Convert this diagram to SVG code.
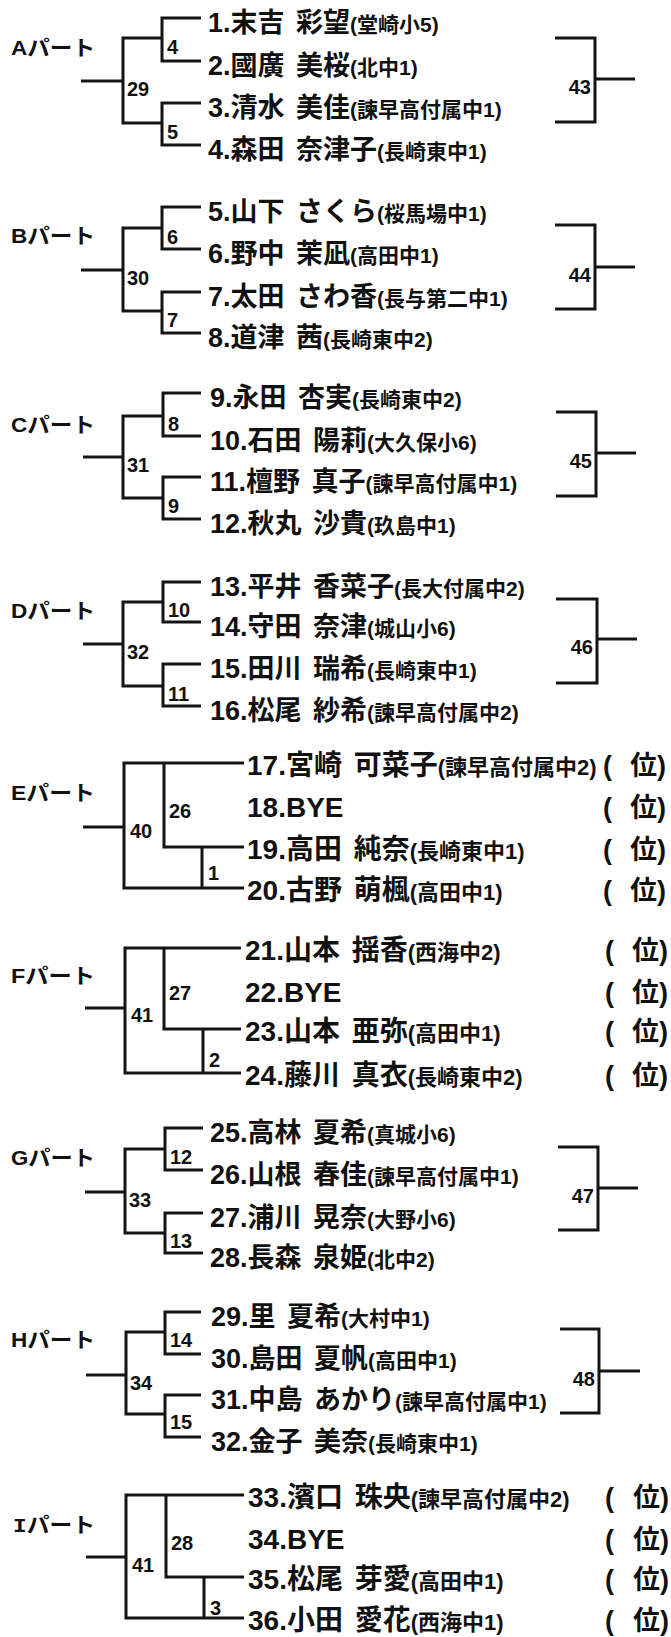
<svg xmlns="http://www.w3.org/2000/svg" width="671" height="1637" viewBox="0 0 671 1637">
<style>
.bg{fill:#ffffff}
.ln{stroke:#141414;stroke-width:3;fill:none;stroke-linejoin:miter}
.nm{font-family:"Liberation Sans Narrow","Liberation Sans","Noto Sans CJK JP",sans-serif;font-size:27px;font-weight:bold;fill:#111}
.nm.w{font-size:28px}
.sc{font-size:21px}
.w .sc{font-size:22px}
.pt{font-family:"Liberation Sans Narrow","Liberation Sans","Noto Sans CJK JP",sans-serif;font-size:21px;font-weight:bold;fill:#111}
.mn{font-family:"Liberation Sans Narrow","Liberation Sans",sans-serif;font-size:20px;font-weight:bold;fill:#111}
.mr{text-anchor:end}
.rk{font-family:"Liberation Sans Narrow","Liberation Sans","Noto Sans CJK JP",sans-serif;font-size:27px;font-weight:bold;fill:#111}
</style>
<rect class="bg" width="671" height="1637"/>

<g id="connectors">
<path class="ln" d="M201 18H162V61H201M201 103H162V145H201M162 38H123V123H162M81 81H123"/>
<path class="ln" d="M555 38H595V122H555M595 79H635"/>
<path class="ln" d="M201 207H162V249H201M201 292H162V333H201M162 228H123V311H162M81 270H123"/>
<path class="ln" d="M555 225H595V309H555M595 267H635"/>
<path class="ln" d="M201 393H163V436H201M201 477H163V519H201M163 416H123V498H163M83 457H123"/>
<path class="ln" d="M556 412H596V496H556M596 453H636"/>
<path class="ln" d="M201 582H163V622H201M201 664H163V706H201M163 602H123V686H163M83 644H123"/>
<path class="ln" d="M556 599H597V683H556M597 639H637"/>
<path class="ln" d="M244 763H124V888H244M164 763V847H244M202 847V888M83 827H124"/>
<path class="ln" d="M241 948H125V1073H241M164 948V1029H241M203 1029V1073M85 1008H125"/>
<path class="ln" d="M203 1128H165V1170H203M203 1213H165V1253H203M165 1149H125V1233H165M85 1192H125"/>
<path class="ln" d="M558 1147H598V1230H558M598 1188H638"/>
<path class="ln" d="M201 1312H165V1354H201M201 1395H165V1437H201M165 1332H126V1414H165M86 1375H126"/>
<path class="ln" d="M560 1329H599V1413H560M599 1371H640"/>
<path class="ln" d="M244 1495H126V1618H244M166 1495V1577H244M204 1577V1618M86 1557H126"/>
</g>

<g id="matches">
<text class="mn" x="127" y="96">29</text><text class="mn" x="167" y="54">4</text><text class="mn" x="167" y="139">5</text><text class="mn mr" x="591" y="94">43</text>
<text class="mn" x="127" y="285">30</text><text class="mn" x="167" y="244">6</text><text class="mn" x="167" y="327">7</text><text class="mn mr" x="591" y="282">44</text>
<text class="mn" x="127" y="472">31</text><text class="mn" x="168" y="431">8</text><text class="mn" x="168" y="513">9</text><text class="mn mr" x="592" y="468">45</text>
<text class="mn" x="127" y="659">32</text><text class="mn" x="168" y="617">10</text><text class="mn" x="168" y="701">11</text><text class="mn mr" x="593" y="654">46</text>
<text class="mn" x="130" y="838">40</text><text class="mn" x="169" y="818">26</text><text class="mn" x="208" y="880">1</text>
<text class="mn" x="131" y="1022">41</text><text class="mn" x="169" y="1000">27</text><text class="mn" x="209" y="1067">2</text>
<text class="mn" x="129" y="1207">33</text><text class="mn" x="170" y="1164">12</text><text class="mn" x="170" y="1248">13</text><text class="mn mr" x="594" y="1203">47</text>
<text class="mn" x="130" y="1390">34</text><text class="mn" x="170" y="1347">14</text><text class="mn" x="170" y="1429">15</text><text class="mn mr" x="595" y="1386">48</text>
<text class="mn" x="132" y="1572">41</text><text class="mn" x="171" y="1550">28</text><text class="mn" x="210" y="1615">3</text>
</g>

<g id="partA"><text class="pt" x="11" y="55" textLength="84" lengthAdjust="spacingAndGlyphs">Aパート</text></g>
<g id="partB"><text class="pt" x="11" y="243" textLength="84" lengthAdjust="spacingAndGlyphs">Bパート</text></g>
<g id="partC"><text class="pt" x="11" y="432" textLength="84" lengthAdjust="spacingAndGlyphs">Cパート</text></g>
<g id="partD"><text class="pt" x="11" y="618" textLength="84" lengthAdjust="spacingAndGlyphs">Dパート</text></g>
<g id="partE"><text class="pt" x="11" y="800" textLength="84" lengthAdjust="spacingAndGlyphs">Eパート</text></g>
<g id="partF"><text class="pt" x="11" y="983" textLength="84" lengthAdjust="spacingAndGlyphs">Fパート</text></g>
<g id="partG"><text class="pt" x="11" y="1165" textLength="84" lengthAdjust="spacingAndGlyphs">Gパート</text></g>
<g id="partH"><text class="pt" x="11" y="1347" textLength="84" lengthAdjust="spacingAndGlyphs">Hパート</text></g>
<g id="partI"><text class="pt" x="13" y="1532" textLength="82" lengthAdjust="spacingAndGlyphs"><tspan font-family="Liberation Mono">I</tspan>パート</text></g>

<g id="p1"><text class="nm" x="208" y="32">1.末吉 <tspan dx="4">彩望</tspan><tspan class="sc">(堂崎小5)</tspan></text></g>
<g id="p2"><text class="nm" x="208" y="75">2.國廣 <tspan dx="4">美桜</tspan><tspan class="sc">(北中1)</tspan></text></g>
<g id="p3"><text class="nm" x="208" y="117">3.清水 <tspan dx="4">美佳</tspan><tspan class="sc">(諫早高付属中1)</tspan></text></g>
<g id="p4"><text class="nm" x="208" y="159">4.森田 <tspan dx="4">奈津子</tspan><tspan class="sc">(長崎東中1)</tspan></text></g>

<g id="p5"><text class="nm" x="208" y="221">5.山下 <tspan dx="4">さくら</tspan><tspan class="sc">(桜馬場中1)</tspan></text></g>
<g id="p6"><text class="nm" x="208" y="263">6.野中 <tspan dx="4">茉凪</tspan><tspan class="sc">(高田中1)</tspan></text></g>
<g id="p7"><text class="nm" x="208" y="306">7.太田 <tspan dx="4">さわ香</tspan><tspan class="sc">(長与第二中1)</tspan></text></g>
<g id="p8"><text class="nm" x="208" y="347">8.道津 <tspan dx="4">茜</tspan><tspan class="sc">(長崎東中2)</tspan></text></g>

<g id="p9"><text class="nm" x="210" y="407">9.永田 <tspan dx="4">杏実</tspan><tspan class="sc">(長崎東中2)</tspan></text></g>
<g id="p10"><text class="nm" x="210" y="450">10.石田 <tspan dx="4">陽莉</tspan><tspan class="sc">(大久保小6)</tspan></text></g>
<g id="p11"><text class="nm" x="210" y="491">11.檀野 <tspan dx="4">真子</tspan><tspan class="sc">(諫早高付属中1)</tspan></text></g>
<g id="p12"><text class="nm" x="210" y="533">12.秋丸 <tspan dx="4">沙貴</tspan><tspan class="sc">(玖島中1)</tspan></text></g>

<g id="p13"><text class="nm" x="210" y="596">13.平井 <tspan dx="4">香菜子</tspan><tspan class="sc">(長大付属中2)</tspan></text></g>
<g id="p14"><text class="nm" x="210" y="636">14.守田 <tspan dx="4">奈津</tspan><tspan class="sc">(城山小6)</tspan></text></g>
<g id="p15"><text class="nm" x="210" y="678">15.田川 <tspan dx="4">瑞希</tspan><tspan class="sc">(長崎東中1)</tspan></text></g>
<g id="p16"><text class="nm" x="210" y="720">16.松尾 <tspan dx="4">紗希</tspan><tspan class="sc">(諫早高付属中2)</tspan></text></g>

<g id="p17"><text class="nm w" x="247" y="775">17.宮崎 <tspan dx="4">可菜子</tspan><tspan class="sc">(諫早高付属中2)</tspan></text><text class="rk" x="603" y="775">( <tspan x="630">位)</tspan></text></g>
<g id="p18"><text class="nm w" x="247" y="817">18.BYE</text><text class="rk" x="603" y="817">( <tspan x="630">位)</tspan></text></g>
<g id="p19"><text class="nm w" x="247" y="859">19.高田 <tspan dx="4">純奈</tspan><tspan class="sc">(長崎東中1)</tspan></text><text class="rk" x="603" y="859">( <tspan x="630">位)</tspan></text></g>
<g id="p20"><text class="nm w" x="247" y="900">20.古野 <tspan dx="4">萌楓</tspan><tspan class="sc">(高田中1)</tspan></text><text class="rk" x="603" y="900">( <tspan x="630">位)</tspan></text></g>

<g id="p21"><text class="nm w" x="245" y="960">21.山本 <tspan dx="4">揺香</tspan><tspan class="sc">(西海中2)</tspan></text><text class="rk" x="605" y="960">( <tspan x="632">位)</tspan></text></g>
<g id="p22"><text class="nm w" x="245" y="1002">22.BYE</text><text class="rk" x="605" y="1002">( <tspan x="632">位)</tspan></text></g>
<g id="p23"><text class="nm w" x="245" y="1041">23.山本 <tspan dx="4">亜弥</tspan><tspan class="sc">(高田中1)</tspan></text><text class="rk" x="605" y="1041">( <tspan x="632">位)</tspan></text></g>
<g id="p24"><text class="nm w" x="245" y="1085">24.藤川 <tspan dx="4">真衣</tspan><tspan class="sc">(長崎東中2)</tspan></text><text class="rk" x="605" y="1085">( <tspan x="632">位)</tspan></text></g>

<g id="p25"><text class="nm" x="210" y="1142">25.高林 <tspan dx="4">夏希</tspan><tspan class="sc">(真城小6)</tspan></text></g>
<g id="p26"><text class="nm" x="210" y="1184">26.山根 <tspan dx="4">春佳</tspan><tspan class="sc">(諫早高付属中1)</tspan></text></g>
<g id="p27"><text class="nm" x="210" y="1227">27.浦川 <tspan dx="4">晃奈</tspan><tspan class="sc">(大野小6)</tspan></text></g>
<g id="p28"><text class="nm" x="210" y="1267">28.長森 <tspan dx="4">泉姫</tspan><tspan class="sc">(北中2)</tspan></text></g>

<g id="p29"><text class="nm" x="211" y="1326">29.里 <tspan dx="4">夏希</tspan><tspan class="sc">(大村中1)</tspan></text></g>
<g id="p30"><text class="nm" x="211" y="1368">30.島田 <tspan dx="4">夏帆</tspan><tspan class="sc">(高田中1)</tspan></text></g>
<g id="p31"><text class="nm" x="211" y="1409">31.中島 <tspan dx="4">あかり</tspan><tspan class="sc">(諫早高付属中1)</tspan></text></g>
<g id="p32"><text class="nm" x="211" y="1451">32.金子 <tspan dx="4">美奈</tspan><tspan class="sc">(長崎東中1)</tspan></text></g>

<g id="p33"><text class="nm w" x="248" y="1507">33.濱口 <tspan dx="4">珠央</tspan><tspan class="sc">(諫早高付属中2)</tspan></text><text class="rk" x="605" y="1507">( <tspan x="633">位)</tspan></text></g>
<g id="p34"><text class="nm w" x="248" y="1549">34.BYE</text><text class="rk" x="605" y="1549">( <tspan x="633">位)</tspan></text></g>
<g id="p35"><text class="nm w" x="248" y="1589">35.松尾 <tspan dx="4">芽愛</tspan><tspan class="sc">(高田中1)</tspan></text><text class="rk" x="605" y="1589">( <tspan x="633">位)</tspan></text></g>
<g id="p36"><text class="nm w" x="248" y="1630">36.小田 <tspan dx="4">愛花</tspan><tspan class="sc">(西海中1)</tspan></text><text class="rk" x="605" y="1630">( <tspan x="633">位)</tspan></text></g>
</svg>
